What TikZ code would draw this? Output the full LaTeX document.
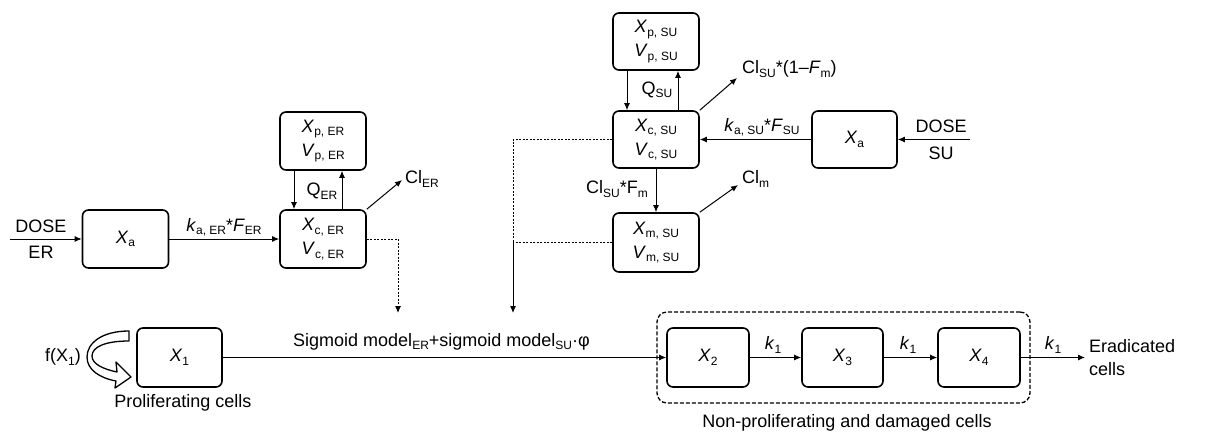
\documentclass[tikz,border=0pt]{standalone}
\usepackage{fontspec}
\setmainfont{Liberation Sans}
\usetikzlibrary{arrows.meta}
\newcommand\lo[1]{\raisebox{-3.5pt}{\fontsize{12}{12}\selectfont #1}}
\begin{document}
\begin{tikzpicture}[x=1pt,y=-1pt,
  font=\fontsize{18}{23}\selectfont,
  box/.style={draw, rounded corners=6pt, line width=1.6pt, align=center, inner sep=0pt,
    minimum width=86pt, minimum height=58pt},
  arr/.style={line width=1pt, -{Latex[length=7pt,width=6pt]}},
  dotline/.style={line width=1pt, dash pattern=on 2pt off 1.5pt},
  lbl/.style={inner sep=0pt}]
\useasboundingbox (0,0) rectangle (1205,432);

% ---------- ER compartments ----------
\node[box] (xaER) at (125.5,239) {\textit{X}\lo{a}};
\node[box] (xpER) at (323,141) {\textit{X}\lo{p, ER}\\[1pt]\textit{V}\lo{p, ER}};
\node[box] (xcER) at (323,239) {\textit{X}\lo{c, ER}\\[1pt]\textit{V}\lo{c, ER}};

\coordinate (doseER) at (10,239);
\node[lbl] (doseERt) at (41,226) {DOSE};
\node[lbl] (doseERb) at (41,252) {ER};
\draw[arr] (doseER) -- (xaER);
\draw[arr] (xaER) -- (xcER);
\node[lbl] (kaER) at (224,227) {\textit{k}\lo{a, ER}*\textit{F}\lo{ER}};
\draw[arr] ([xshift=-29pt]xpER.south) -- ([xshift=-29pt]xcER.north);
\draw[arr] ([xshift=19pt]xcER.north) -- ([xshift=19pt]xpER.south);
\node[lbl] (qER) at (322,191) {Q\lo{ER}};
\coordinate (clERend) at (402,180);
\draw[arr] (xcER.north east) -- (clERend);
\node[lbl, anchor=west] (clER) at (405,179) {Cl\lo{ER}};
\coordinate (erDrop) at (398,313);
\draw[dotline, -{Latex[length=7pt,width=6pt]}] (xcER.east) -| (erDrop);

% ---------- SU compartments ----------
\node[box, minimum height=57pt] (xpSU) at (656,41.5) {\textit{X}\lo{p, SU}\\[1pt]\textit{V}\lo{p, SU}};
\node[box, minimum height=57pt] (xcSU) at (656,139.5) {\textit{X}\lo{c, SU}\\[1pt]\textit{V}\lo{c, SU}};
\node[box, minimum height=57pt, minimum width=85pt] (xaSU) at (854.5,139.5) {\textit{X}\lo{a}};
\node[box, minimum height=59pt] (xmSU) at (656,242.5) {\textit{X}\lo{m, SU}\\[1pt]\textit{V}\lo{m, SU}};

\coordinate (doseSU) at (970,139.5);
\node[lbl] (doseSUt) at (941,126) {DOSE};
\node[lbl] (doseSUb) at (941,153) {SU};
\draw[arr] (doseSU) -- (xaSU);
\draw[arr] (xaSU) -- (xcSU);
\node[lbl] (kaSU) at (762,127) {\textit{k}\lo{a, SU}*\textit{F}\lo{SU}};
\draw[arr] ([xshift=-29pt]xpSU.south) -- ([xshift=-29pt]xcSU.north);
\draw[arr] ([xshift=22pt]xcSU.north) -- ([xshift=22pt]xpSU.south);
\node[lbl] (qSU) at (657,90) {Q\lo{SU}};
\coordinate (clSUend) at (737,78);
\draw[arr] (xcSU.north east) -- (clSUend);
\node[lbl, anchor=west] (clSU) at (742,69) {Cl\lo{SU}*(1–\textit{F}\lo{m})};
\draw[arr] (xcSU) -- (xmSU);
\node[lbl] (clSUm) at (617,189) {Cl\lo{SU}*F\lo{m}};
\coordinate (clmend) at (738,185);
\draw[arr] (xmSU.north east) -- (clmend);
\node[lbl, anchor=west] (clm) at (742,179) {Cl\lo{m}};

\coordinate (suCorner) at (513,139.5);
\coordinate (suJoin) at (513,242.5);
\coordinate (suDrop) at (513,313);
\draw[dotline] (xcSU.west) -- (suCorner) -- (suJoin);
\draw[dotline] (xmSU.west) -- (suJoin);
\draw[arr] (suJoin) -- (suDrop);

% ---------- cell compartments ----------
\node[box, minimum width=85pt, minimum height=59pt] (x1) at (179.5,357.5) {\textit{X}\lo{1}};
\node[box, minimum width=82pt, minimum height=59pt] (x2) at (708,357.5) {\textit{X}\lo{2}};
\node[box, minimum width=81pt, minimum height=59pt] (x3) at (842.5,357.5) {\textit{X}\lo{3}};
\node[box, minimum width=82pt, minimum height=59pt] (x4) at (979,357.5) {\textit{X}\lo{4}};
\node[draw, line width=1.3pt, dash pattern=on 4pt off 2pt, rounded corners=10pt,
  minimum width=373pt, minimum height=91pt, inner sep=0pt] (grp) at (843.5,357.5) {};

\draw[arr] (x1) -- (x2);
\node[lbl, anchor=base west] (sig) at (293,346) {Sigmoid model\lo{ER}+sigmoid model\lo{SU}·φ};
\draw[arr] (x2) -- (x3);
\draw[arr] (x3) -- (x4);
\coordinate (erad) at (1085,357.5);
\draw[arr] (x4) -- (erad);
\node[lbl] (k12) at (773,345) {\textit{k}\lo{1}};
\node[lbl] (k23) at (908,345) {\textit{k}\lo{1}};
\node[lbl] (k4e) at (1053,345) {\textit{k}\lo{1}};
\node[lbl, anchor=west, align=left] (eradt) at (1089,358) {Eradicated\\cells};
\node[lbl] (npc) at (847,423) {Non-proliferating and damaged cells};
\node[lbl] (pc) at (183,403) {Proliferating cells};
\node[lbl] (fx1) at (63,357) {f(X\lo{1})};

% self-renewal loop arrow (hollow band)
\draw[line width=1.3pt, fill=white, line join=round]
  (129,331) .. controls (102,331) and (87,343) .. (87,357)
  .. controls (87,370) and (100,378) .. (116,381)
  -- (115,388) -- (131,377) -- (116,362) -- (117,372)
  .. controls (103,369) and (92,364) .. (92,356)
  .. controls (92,347) and (105,341) .. (129,341) -- cycle;
\end{tikzpicture}
\end{document}
